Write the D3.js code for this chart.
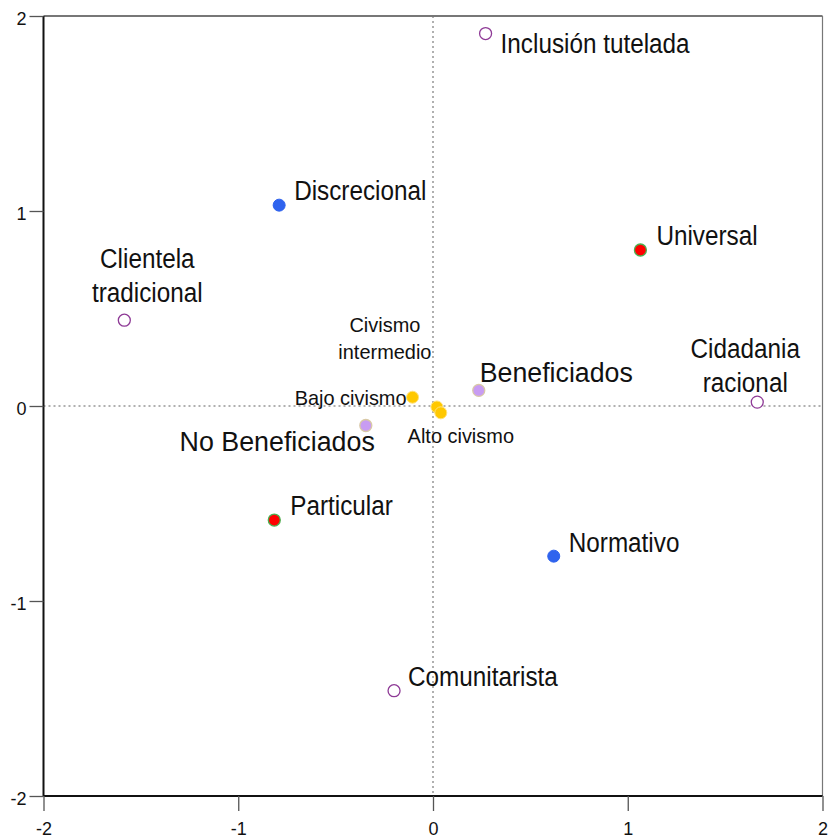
<!DOCTYPE html>
<html>
<head>
<meta charset="utf-8">
<script src="https://cdn.jsdelivr.net/npm/d3@7/dist/d3.min.js"></script>
<style>
  body { margin: 0; background: #fff; }
  svg { display: block; }
  .lbl { font-family: "Liberation Sans Narrow", "Arial Narrow", "Liberation Sans", Arial, sans-serif; fill: #111; }
</style>
</head>
<body>
<svg id="chart" width="833" height="838"></svg>
<script>
// ---- data ----
const names = ["Inclusión tutelada", "Discrecional", "Universal", "Clientela tradicional",
  "Cidadania racional", "Beneficiados", "Bajo civismo", "Civismo intermedio", "Alto civismo",
  "No Beneficiados", "Particular", "Normativo", "Comunitarista"];
const dim1 = [0.27, -0.79, 1.065, -1.585, 1.665, 0.235, -0.105, 0.02, 0.04, -0.345, -0.815, 0.62, -0.20];
const dim2 = [1.91, 1.03, 0.80, 0.44, 0.02, 0.08, 0.045, -0.005, -0.035, -0.10, -0.585, -0.77, -1.46];
const groups = ["modelo", "vinculo", "tipo", "modelo", "modelo", "benef", "civ", "civ", "civ",
  "benef", "tipo", "vinculo", "modelo"];
const xTicks = [-2, -1, 0, 1, 2];
const yTicks = [-2, -1, 0, 1, 2];

// ---- styles ----
const groupStyle = {
  modelo:  { fill: "#ffffff", stroke: "#8e3a96", sw: 1.3 },
  vinculo: { fill: "#2f63ee", stroke: "#2f63ee", sw: 1 },
  tipo:    { fill: "#ff0000", stroke: "#4caf50", sw: 1.3 },
  benef:   { fill: "#c89cf2", stroke: "#d9c9a6", sw: 1.3 },
  civ:     { fill: "#ffc800", stroke: "#ffe27a", sw: 1 }
};
// label layout: [dx, dy (baseline of first line), anchor, size, scaleX, lines]
const labelLayout = [
  [15, 19, "start", 27, 0.90, ["Inclusión tutelada"]],
  [15, -5, "start", 27, 0.90, ["Discrecional"]],
  [16, -5, "start", 27, 0.90, ["Universal"]],
  [23, -52, "middle", 27, 0.90, ["Clientela", "tradicional"]],
  [-12, -44, "middle", 27, 0.90, ["Cidadania", "racional"]],
  [1, -8, "start", 28, 0.955, ["Beneficiados"]],
  [-6, 8, "end", 21, 0.95, ["Bajo civismo"]],
  [-52, -75, "middle", 21, 0.95, ["Civismo", "intermedio"]],
  [20, 30, "middle", 21, 0.95, ["Alto civismo"]],
  [9, 25, "end", 28, 0.958, ["No Beneficiados"]],
  [16, -5, "start", 27, 0.90, ["Particular"]],
  [15, -4, "start", 27, 0.90, ["Normativo"]],
  [14, -5, "start", 27, 0.90, ["Comunitarista"]]
];

const svg = d3.select("#chart");
const L = 43.5, R = 822.5, T = 16, B = 796;
const x = d3.scaleLinear().domain([-2, 2]).range([L, R]);
const y = d3.scaleLinear().domain([-2, 2]).range([B, T]);

// reference lines
svg.append("line").attr("x1", x(0)).attr("x2", x(0)).attr("y1", T).attr("y2", B)
  .attr("stroke", "#b0b0b0").attr("stroke-width", 2).attr("stroke-dasharray", "2,3");
svg.append("line").attr("x1", L).attr("x2", R).attr("y1", y(0)).attr("y2", y(0))
  .attr("stroke", "#b0b0b0").attr("stroke-width", 2).attr("stroke-dasharray", "2,3");

// frame (top and right gray)
svg.append("line").attr("x1", L).attr("x2", R).attr("y1", T).attr("y2", T)
  .attr("stroke", "#777").attr("stroke-width", 2);
svg.append("line").attr("x1", R).attr("x2", R).attr("y1", T).attr("y2", B)
  .attr("stroke", "#777").attr("stroke-width", 1.2);

// axes
const fmt = d => String(d);
const xAxis = d3.axisBottom(x).tickValues(xTicks).tickSize(15).tickPadding(11).tickFormat(fmt);
const yAxis = d3.axisLeft(y).tickValues(yTicks).tickSize(14).tickPadding(3).tickFormat(fmt);
const gx = svg.append("g").attr("transform", `translate(0,${B})`).call(xAxis);
const gy = svg.append("g").attr("transform", `translate(${L},0)`).call(yAxis);
[gx, gy].forEach(g => {
  g.select(".domain").attr("stroke", "#111").attr("stroke-width", 2);
  g.selectAll(".tick line").attr("stroke", "#555").attr("stroke-width", 1.3);
  g.selectAll(".tick text").attr("fill", "#111")
    .style("font-family", "'Liberation Sans', Arial, sans-serif").style("font-size", "18px");
});
gx.select(".domain").attr("d", `M${L},0H${R}`);
gy.select(".domain").attr("d", `M0,${T}V${B}`);
gy.selectAll(".tick text").attr("dy", "0.45em");

// points
const data = names.map((n, i) => ({ name: n, x: dim1[i], y: dim2[i], g: groups[i], lay: labelLayout[i] }));
svg.append("g").selectAll("circle").data(data).join("circle")
  .attr("cx", d => x(d.x)).attr("cy", d => y(d.y)).attr("r", 6)
  .attr("fill", d => groupStyle[d.g].fill)
  .attr("stroke", d => groupStyle[d.g].stroke)
  .attr("stroke-width", d => groupStyle[d.g].sw);

// labels
const lg = svg.append("g");
data.forEach(d => {
  const [dx, dy, anchor, size, sx, lines] = d.lay;
  const g = lg.append("g")
    .attr("transform", `translate(${x(d.x) + dx},${y(d.y) + dy}) scale(${sx},1)`);
  const t = g.append("text").attr("class", "lbl")
    .attr("text-anchor", anchor).style("font-size", size + "px")
    .attr("x", 0).attr("y", 0);
  lines.forEach((ln, j) => {
    t.append("tspan").attr("x", 0).attr("dy", j === 0 ? 0 : Math.round(size * 1.27)).text(ln);
  });
});
</script>
</body>
</html>
